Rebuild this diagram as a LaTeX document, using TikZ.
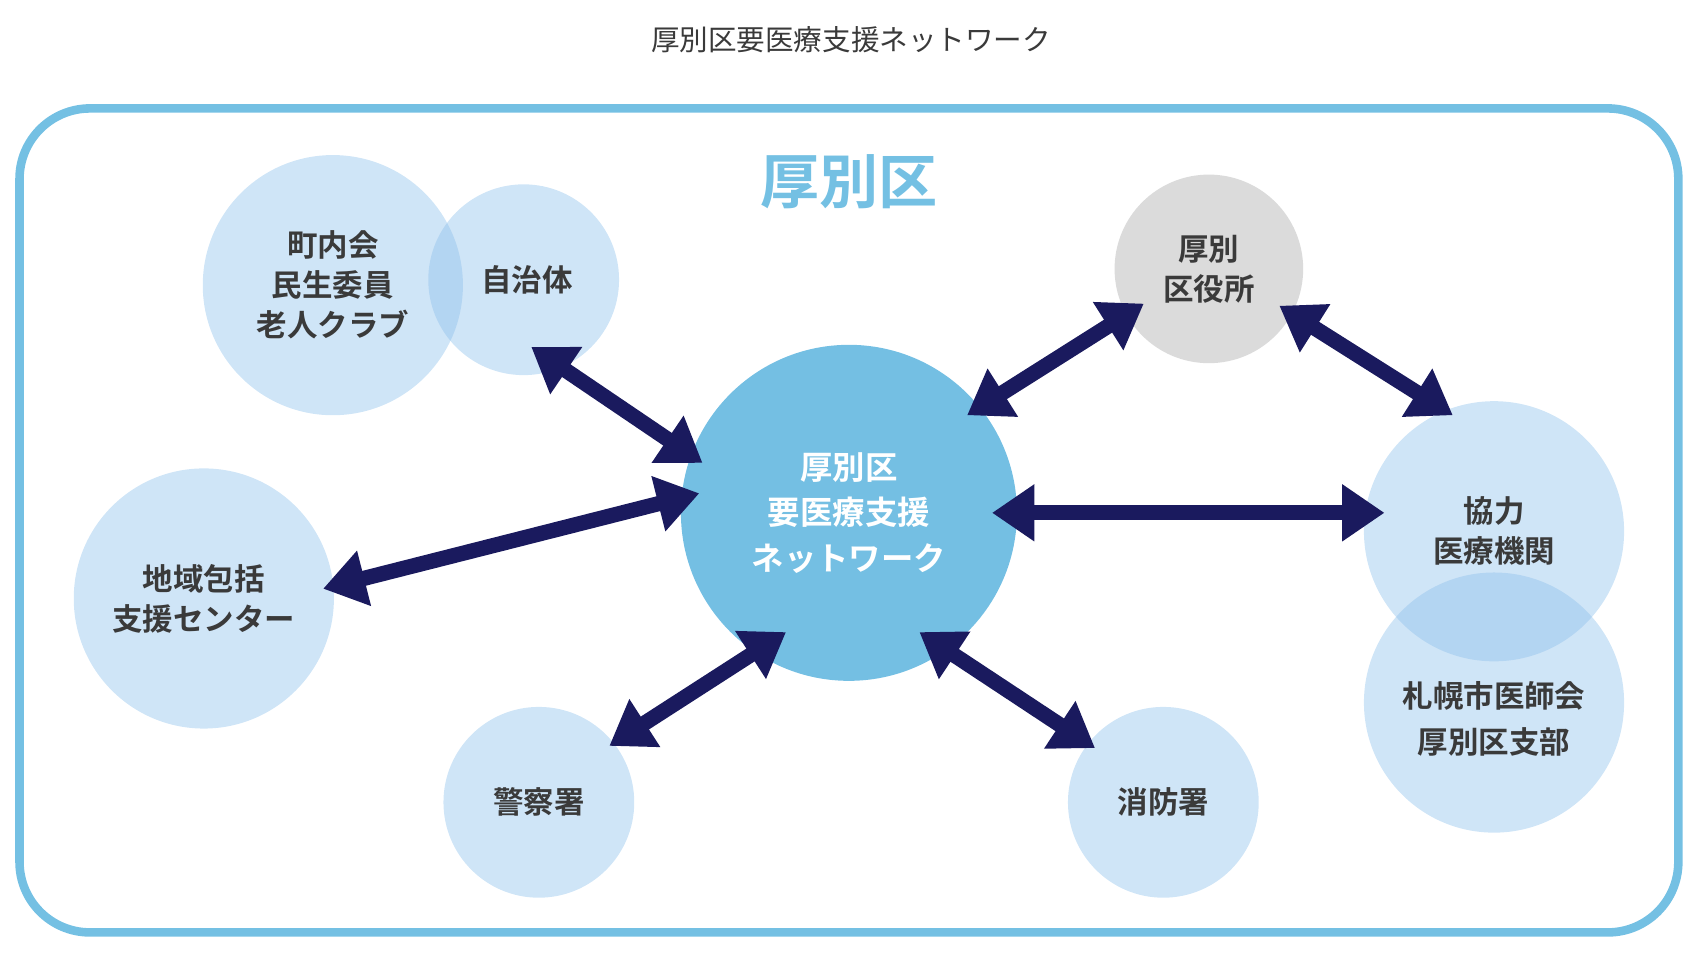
\documentclass[tikz,border=0pt]{standalone}
\usepackage{fontspec}
\newfontfamily\jp{Noto Sans CJK JP}
\newfontfamily\jpb{Noto Sans CJK JP Bold}
\usetikzlibrary{arrows.meta}
\definecolor{frameblue}{HTML}{74C0E3}
\definecolor{bubble}{HTML}{8DC0EB}
\definecolor{hubblue}{HTML}{74BFE3}
\definecolor{navy}{HTML}{1A1A5E}
\definecolor{txt}{HTML}{3A3A3A}
\tikzset{
  bub/.style={circle, fill=bubble, fill opacity=0.42, text opacity=1, text=txt,
    font=\jpb\fontsize{16}{21}\selectfont, align=center, inner sep=0pt},
  link/.style={navy, line width=8pt, {Triangle[length=0.78cm,width=1.0cm]}-{Triangle[length=0.78cm,width=1.0cm]}}
}
\begin{document}
\begin{tikzpicture}[x=0.02cm,y=-0.02cm]
	\useasboundingbox (0,0) rectangle (1568,883);
	\node (title) [font=\jp\fontsize{15}{18}\selectfont, text=txt] at (785,37) {厚別区要医療支援ネットワーク};
	\draw [frameblue, line width=4.5pt, rounded corners=1.3cm] (18,100) rectangle (1548,860);
	\node (ward) [font=\jpb\fontsize{31}{36}\selectfont, text=frameblue] at (783,168) {厚別区};
	% bubbles
	\node (town) [bub, minimum size=4.8cm] at (307,263) {町内会\\民生委員\\老人クラブ};
	\node (gov) [bub, minimum size=3.52cm] at (483,258) {};
	\node [text=txt, font=\jpb\fontsize{16}{21}\selectfont] at (486,258) {自治体};
	\node (office) [bub, fill=black!14, fill opacity=1, minimum size=3.48cm] at (1115,248) {厚別\\区役所};
	\node (hub) [circle, fill=hubblue, text=white, minimum size=6.2cm, align=center,
		font=\jpb\fontsize{17}{24}\selectfont] at (783,473) {厚別区\\要医療支援\\ネットワーク};
	\node (care) [bub, minimum size=4.8cm] at (188,552) {地域包括\\支援センター};
	\node (hosp) [bub, minimum size=4.8cm] at (1378,490) {協力\\医療機関};
	\node (assoc) [bub, minimum size=4.8cm] at (1378,648) {};
	\node [text=txt, font=\jpb\fontsize{16}{24}\selectfont, align=center] at (1378,663) {札幌市医師会\\厚別区支部};
	\node (police) [bub, minimum size=3.52cm] at (497,740) {警察署};
	\node (fire) [bub, minimum size=3.52cm] at (1073,740) {消防署};
	% arrow ends
	\coordinate (g1) at (490,320);  \coordinate (h1) at (648,427);
	\coordinate (c1) at (298,543);  \coordinate (h2) at (645,455);
	\coordinate (h3) at (915,473);  \coordinate (k1) at (1277,473);
	\coordinate (h4) at (892,383);  \coordinate (o1) at (1055,280);
	\coordinate (o2) at (1180,282); \coordinate (k2) at (1340,383);
	\coordinate (p1) at (562,688);  \coordinate (h5) at (725,583);
	\coordinate (h6) at (848,583);  \coordinate (f1) at (1010,690);
	\draw [link] (g1) -- (h1);
	\draw [link] (c1) -- (h2);
	\draw [link] (h3) -- (k1);
	\draw [link] (h4) -- (o1);
	\draw [link] (o2) -- (k2);
	\draw [link] (p1) -- (h5);
	\draw [link] (h6) -- (f1);
\end{tikzpicture}
\end{document}
